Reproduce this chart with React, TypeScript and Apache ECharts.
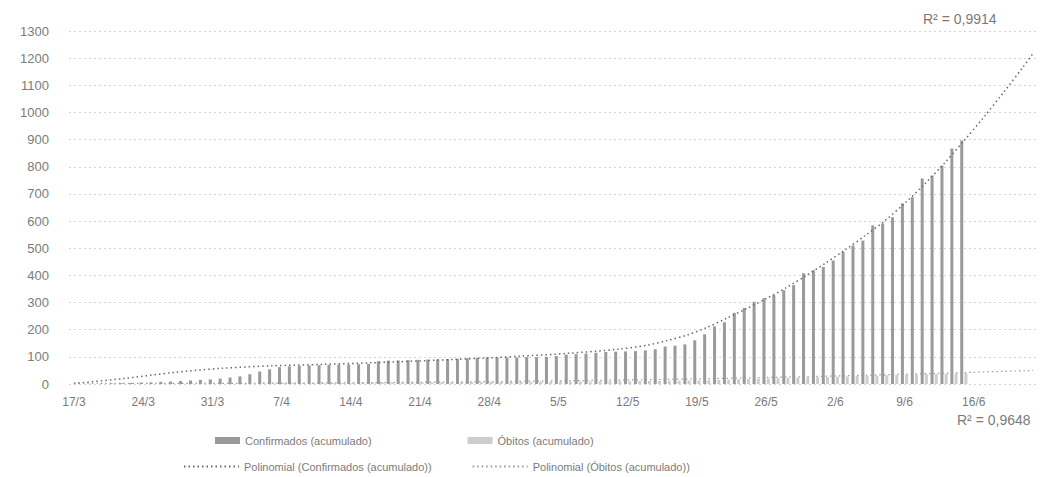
import React, { useEffect, useRef } from "react";
import * as echarts from "echarts";

// Days from 17/3 to 22/6 (axis extends past the data for the trend forecast)
const monthSpans: [number, number, number][] = [
  [3, 17, 31],
  [4, 1, 30],
  [5, 1, 31],
  [6, 1, 22],
];
const categories: string[] = [];
monthSpans.forEach(([m, a, b]) => {
  for (let d = a; d <= b; d++) categories.push(`${d}/${m}`);
});

// Confirmados (acumulado), 17/3 .. 15/6
const confirmados: number[] = [
  0, 0, 1, 1, 2, 3, 4,
  5, 6, 8, 9, 11, 13, 15,
  17, 20, 24, 28, 36, 46, 54,
  62, 65, 67, 68, 69, 70, 71,
  72, 73, 74, 84, 86, 87, 88,
  89, 90, 91, 92, 93, 95, 96,
  97, 97, 98, 98, 99, 99, 100,
  103, 108, 110, 112, 115, 118, 119,
  120, 121, 124, 128, 138, 141, 146,
  161, 183, 212, 227, 262, 280, 303,
  316, 327, 345, 364, 408, 419, 431,
  455, 486, 510, 528, 584, 591, 614,
  665, 688, 757, 768, 804, 867, 897,
];

// Óbitos (acumulado), 17/3 .. 15/6
const obitos: number[] = [
  0, 0, 0, 0, 0, 0, 0,
  0, 0, 0, 0, 0, 0, 0,
  0, 0, 0, 1, 1, 2, 2,
  3, 3, 3, 4, 4, 4, 4,
  5, 5, 5, 5, 6, 6, 6,
  6, 6, 7, 7, 7, 7, 7,
  8, 8, 8, 8, 8, 8, 9,
  9, 9, 9, 9, 10, 10, 10,
  10, 11, 11, 11, 12, 12, 13,
  13, 14, 15, 16, 17, 18, 19,
  20, 21, 22, 23, 24, 25, 26,
  27, 28, 29, 30, 31, 32, 33,
  34, 35, 36, 37, 38, 39, 40,
];

// Polynomial trend lines, read at sampled day indexes
const trendConfDays: number[] = [0, 5, 10, 15, 20, 25, 30, 35, 40, 45, 50, 55, 58, 60, 62, 64, 66, 68, 70, 72, 74, 76, 78, 80, 82, 84, 86, 88, 90, 92, 94, 96, 97];
const trendConfValues: number[] = [2, 20, 42, 58, 67, 72, 78, 85, 93, 102, 113, 128, 143, 160, 180, 208, 242, 277, 314, 354, 398, 445, 494, 546, 601, 665, 735, 812, 895, 982, 1073, 1168, 1218];

const trendObDays: number[] = [0, 10, 20, 30, 40, 50, 60, 70, 80, 90, 97];
const trendObValues: number[] = [3, 2, 3, 5, 8, 12, 17, 24, 32, 42, 50];

const r2Conf = "R² = 0,9914";
const r2Ob = "R² = 0,9648";

const FONT = "Liberation Sans";
const TEXT = "#7b7b7b";

export default function App() {
  const ref = useRef<HTMLDivElement>(null);

  useEffect(() => {
    document.body.style.margin = "0";
    if (!ref.current) return;
    const chart = echarts.init(ref.current, undefined, { renderer: "svg" });

    const option: any = {
      animation: false,
      backgroundColor: "#ffffff",
      textStyle: { fontFamily: FONT },
      grid: { left: 69, right: 12, top: 31, bottom: 93, containLabel: false },
      xAxis: {
        type: "category",
        data: categories,
        boundaryGap: true,
        axisLine: { show: false },
        axisTick: { show: false },
        axisLabel: { interval: 6, color: TEXT, fontSize: 12, fontFamily: FONT, margin: 12 },
        splitLine: { show: false },
      },
      yAxis: {
        type: "value",
        min: 0,
        max: 1300,
        interval: 100,
        axisLine: { show: false },
        axisTick: { show: false },
        axisLabel: {
          color: TEXT,
          fontSize: 13,
          fontFamily: FONT,
          margin: 20,
          formatter: (v: number) => String(v),
        },
        splitLine: { lineStyle: { type: [2, 3], color: "#d4d4d4", width: 1 } },
      },
      legend: [
        {
          data: ["Confirmados (acumulado)", "Óbitos (acumulado)"],
          left: 210,
          top: 430,
          itemWidth: 25,
          itemHeight: 7,
          itemGap: 96,
          icon: "rect",
          textStyle: { color: TEXT, fontSize: 11, fontFamily: FONT },
        },
        {
          data: ["Polinomial (Confirmados (acumulado))", "Polinomial (Óbitos (acumulado))"],
          left: 178,
          top: 456,
          itemWidth: 55,
          itemHeight: 8,
          itemGap: 40,
          itemStyle: { opacity: 0 },
          textStyle: { color: TEXT, fontSize: 11, fontFamily: FONT },
        },
      ],
      series: [
        {
          name: "Confirmados (acumulado)",
          type: "bar",
          data: confirmados,
          barWidth: 3,
          barGap: "40%",
          itemStyle: { color: "#9a9a9a" },
        },
        {
          name: "Óbitos (acumulado)",
          type: "bar",
          data: obitos,
          barWidth: 3,
          itemStyle: { color: "#cdcdcd" },
        },
        {
          name: "Polinomial (Confirmados (acumulado))",
          type: "line",
          data: trendConfDays.map((d, i) => [categories[d], trendConfValues[i]]),
          smooth: 0.3,
          symbol: "none",
          z: 5,
          lineStyle: { type: [1.5, 3], color: "#6a6a6a", width: 1.5 },
          itemStyle: { color: "#6a6a6a" },
        },
        {
          name: "Polinomial (Óbitos (acumulado))",
          type: "line",
          data: trendObDays.map((d, i) => [categories[d], trendObValues[i]]),
          smooth: 0.3,
          symbol: "none",
          z: 5,
          lineStyle: { type: [1.5, 3], color: "#9a9a9a", width: 1.2 },
          itemStyle: { color: "#9a9a9a" },
        },
      ],
      graphic: [
        {
          type: "text",
          left: 923,
          top: 12,
          style: { text: r2Conf, fill: TEXT, fontSize: 14, fontFamily: FONT },
        },
        {
          type: "text",
          left: 957,
          top: 413,
          style: { text: r2Ob, fill: TEXT, fontSize: 14, fontFamily: FONT },
        },
      ],
    };

    chart.setOption(option);
    return () => chart.dispose();
  }, []);

  return (
    <div
      ref={ref}
      style={{ position: "absolute", left: 0, top: 0, width: 1050, height: 477, background: "#fff" }}
    />
  );
}
